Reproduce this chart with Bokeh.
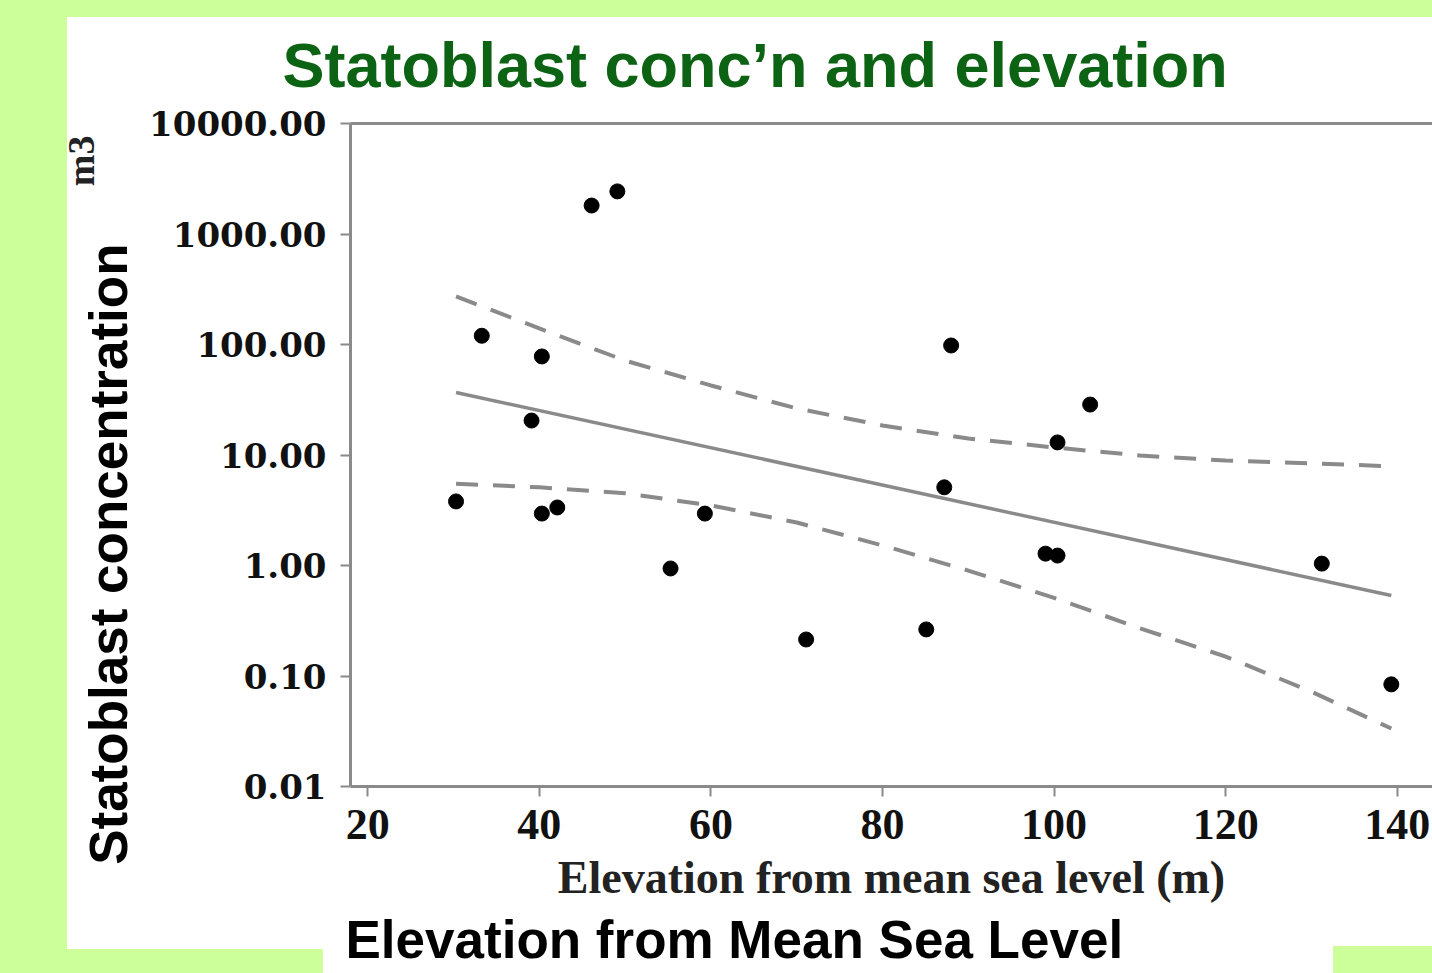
from bokeh.plotting import figure
from bokeh.models import (Range1d, FixedTicker, NumeralTickFormatter, LinearAxis,
                          Title, Div)
from bokeh.layouts import column, row
from bokeh.embed import file_html
from bokeh.resources import INLINE

# ---- data ----
elev = [30.3, 33.3, 40.3, 39.1, 40.3, 42.1, 46.1, 49.1, 55.3, 59.3, 71.1,
        85.1, 88.0, 87.2, 99.0, 100.4, 100.4, 104.2, 131.2, 139.3]
conc = [3.8, 120, 78, 20.5, 2.95, 3.35, 1810, 2430, 0.94, 2.95, 0.214,
        0.264, 98, 5.1, 1.28, 1.23, 13.0, 28.6, 1.04, 0.084]

fit_x = [30.3, 139.3]
fit_y = [36.8, 0.535]

band_x = [30.3, 40, 50, 60, 70, 80, 90, 100, 110, 120, 130, 139.3]
band_upper = [272, 140, 71.6, 42.6, 26.4, 18.5, 14.1, 11.7, 9.9, 8.9, 8.4, 7.9]
band_lower = [5.5, 5.1, 4.5, 3.5, 2.45, 1.52, 0.90, 0.51, 0.27, 0.15, 0.072, 0.0335]

x_ticks = [20, 40, 60, 80, 100, 120, 140]
y_ticks = [0.01, 0.1, 1, 10, 100, 1000, 10000]

title_text = "Statoblast conc\u2019n and elevation"
y_title = "Statoblast concentration"
unit_text = "m3"
x_axis_title = "Elevation from mean sea level (m)"
bottom_title = "Elevation from Mean Sea Level"

W, H = 1432, 973
PAD_L, PAD_T = 67, 17
GREEN = "#ccff99"
AX = "#8a8a8a"

FW = W - PAD_L
p = figure(width=FW, height=H, output_backend="svg", toolbar_location=None,
           y_axis_type="log",
           x_range=Range1d(18.0, 144.1), y_range=Range1d(0.01, 10000),
           min_border_left=350 - PAD_L, min_border_right=0,
           min_border_top=123, min_border_bottom=H - 786)
p.margin = 0
p.border_fill_color = "white"
p.background_fill_color = "white"
p.outline_line_color = None
p.grid.visible = False

# axes
xa = p.xaxis[0]
xa.ticker = FixedTicker(ticks=x_ticks)
xa.axis_line_color = AX
xa.axis_line_width = 3
xa.major_tick_line_color = AX
xa.major_tick_line_width = 2
xa.major_tick_out = 10
xa.major_tick_in = 0
xa.minor_tick_line_color = None
xa.major_label_text_font = "Liberation Serif"
xa.major_label_text_font_style = "bold"
xa.major_label_text_font_size = "44px"
xa.major_label_text_color = "#111111"
xa.major_label_standoff = 13
xa.axis_label = x_axis_title
xa.axis_label_text_font = "Liberation Serif"
xa.axis_label_text_font_style = "bold"
xa.axis_label_text_font_size = "46px"
xa.axis_label_text_color = "#222222"
xa.axis_label_standoff = 10

ya = p.yaxis[0]
ya.ticker = FixedTicker(ticks=y_ticks)
ya.formatter = NumeralTickFormatter(format="0.00")
ya.axis_line_color = AX
ya.axis_line_width = 3
ya.major_tick_line_color = AX
ya.major_tick_line_width = 2
ya.major_tick_out = 10
ya.major_tick_in = 0
ya.minor_tick_line_color = None
ya.major_label_text_font = "DejaVu Serif"
ya.major_label_text_font_style = "bold"
ya.major_label_text_font_size = "34px"
ya.major_label_text_color = "#111111"
ya.major_label_standoff = 14

top = LinearAxis(axis_line_color=AX, axis_line_width=3,
                 major_tick_line_color=None, minor_tick_line_color=None,
                 major_label_text_font_size="0px", major_label_text_color=None,
                 major_label_standoff=0)
p.add_layout(top, "above")

# titles
p.title.text = title_text
p.title.align = "left"
p.title.offset = -68
p.title.standoff = 35
p.title.text_font = "Liberation Sans"
p.title.text_font_style = "bold"
p.title.text_font_size = "63px"
p.title.text_color = "#0d6314"

p.add_layout(Title(text=y_title, align="right", offset=120, standoff=17,
                   text_font="Liberation Sans", text_font_style="bold",
                   text_font_size="53px", text_color="black"), "left")
p.add_layout(Title(text=unit_text, align="right", offset=12, standoff=-67,
                   text_font="Liberation Serif", text_font_style="bold",
                   text_font_size="38px", text_color="#222222"), "left")
p.add_layout(Title(text=bottom_title, align="left", offset=-5, standoff=5,
                   text_font="Liberation Sans", text_font_style="bold",
                   text_font_size="53px", text_color="black"), "below")

# bands and fit
p.line(band_x, band_upper, line_color=AX, line_width=4, line_dash="22 15")
p.line(band_x, band_lower, line_color=AX, line_width=4, line_dash="22 15")
p.line(fit_x, fit_y, line_color=AX, line_width=3.5)
p.scatter(elev, conc, size=15, color="black")

def strip(left, top_, width, height):
    return Div(text="", width=width, height=height, margin=0,
               styles={"background-color": GREEN, "position": "absolute",
                       "left": f"{left}px", "top": f"{top_}px", "z-index": "10"})

left_strip = Div(text="", width=PAD_L, height=H, margin=0,
                 styles={"background-color": GREEN})
top_strip = strip(0, 0, W, PAD_T)
bl_strip = strip(PAD_L, 949, 323 - PAD_L, H - 949)
br_strip = strip(1333, 946, W - 1333, H - 946)
root = column(row(left_strip, p, spacing=0, margin=0),
              top_strip, bl_strip, br_strip, spacing=0, margin=0)

open("out.html", "w").write(file_html(root, INLINE))
